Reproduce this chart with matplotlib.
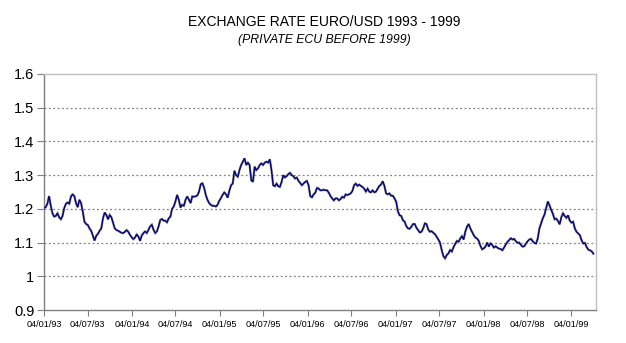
import matplotlib
matplotlib.use("Agg")
import matplotlib.pyplot as plt
import pandas as pd

plt.rcParams['font.family'] = ['Liberation Sans', 'DejaVu Sans']

title = "EXCHANGE RATE EURO/USD 1993 - 1999"
subtitle = "(PRIVATE ECU BEFORE 1999)"

start_date = "1993-01-04"

# weekly readings of the rate
rate_1993 = [1.202, 1.205, 1.215, 1.238, 1.21, 1.187, 1.177, 1.179, 1.187, 1.175,
             1.169, 1.179, 1.202, 1.215, 1.219, 1.215, 1.237, 1.243, 1.238, 1.217,
             1.205, 1.227, 1.217, 1.192, 1.162, 1.155, 1.152, 1.142, 1.135, 1.12,
             1.106, 1.12, 1.126, 1.135, 1.142, 1.172, 1.189, 1.182, 1.169, 1.182,
             1.175, 1.159, 1.142, 1.137, 1.135, 1.132, 1.129, 1.128, 1.132, 1.137,
             1.132, 1.123, 1.116]
rate_1994 = [1.11, 1.115, 1.124, 1.118, 1.105, 1.121, 1.128, 1.133, 1.128, 1.138,
             1.148, 1.153, 1.138, 1.128, 1.133, 1.148, 1.167, 1.170, 1.165, 1.165,
             1.160, 1.172, 1.177, 1.200, 1.207, 1.222, 1.2415, 1.227, 1.204, 1.212,
             1.209, 1.227, 1.237, 1.227, 1.217, 1.237, 1.236, 1.237, 1.240, 1.251,
             1.273, 1.276, 1.263, 1.2415, 1.227, 1.217, 1.212, 1.209, 1.209, 1.207,
             1.212, 1.224, 1.232]
rate_1995 = [1.2415, 1.249, 1.243, 1.233, 1.254, 1.270, 1.275, 1.313, 1.300, 1.295,
             1.315, 1.330, 1.340, 1.350, 1.330, 1.337, 1.330, 1.285, 1.280, 1.325,
             1.315, 1.320, 1.330, 1.335, 1.330, 1.337, 1.340, 1.337, 1.347, 1.315,
             1.270, 1.267, 1.275, 1.267, 1.265, 1.280, 1.300, 1.293, 1.297, 1.303,
             1.307, 1.300, 1.297, 1.290, 1.293, 1.283, 1.277, 1.270, 1.275, 1.280,
             1.283, 1.270, 1.238]
rate_1996 = [1.234, 1.243, 1.248, 1.262, 1.260, 1.255, 1.255, 1.257, 1.255, 1.255,
             1.248, 1.238, 1.231, 1.225, 1.231, 1.231, 1.225, 1.229, 1.236, 1.233,
             1.243, 1.241, 1.243, 1.246, 1.253, 1.270, 1.275, 1.268, 1.272, 1.268,
             1.265, 1.260, 1.251, 1.260, 1.251, 1.249, 1.255, 1.249, 1.251, 1.260,
             1.268, 1.272, 1.282, 1.268, 1.246, 1.243, 1.246, 1.239, 1.239, 1.231,
             1.221, 1.193, 1.181]
rate_1997 = [1.179, 1.166, 1.162, 1.149, 1.142, 1.141, 1.147, 1.155, 1.155, 1.144,
             1.137, 1.130, 1.132, 1.142, 1.157, 1.155, 1.139, 1.132, 1.134, 1.129,
             1.125, 1.117, 1.109, 1.100, 1.078, 1.060, 1.053, 1.063, 1.068, 1.078,
             1.073, 1.086, 1.096, 1.105, 1.102, 1.112, 1.119, 1.109, 1.132, 1.147,
             1.155, 1.142, 1.132, 1.122, 1.115, 1.112, 1.105, 1.090, 1.080, 1.083,
             1.088, 1.100, 1.088]
rate_1998_99 = [1.098, 1.093, 1.085, 1.089, 1.085, 1.082, 1.081, 1.077, 1.085, 1.094,
                1.102, 1.107, 1.113, 1.109, 1.111, 1.104, 1.099, 1.100, 1.093, 1.088,
                1.089, 1.097, 1.104, 1.109, 1.111, 1.104, 1.099, 1.097, 1.112, 1.142,
                1.157, 1.172, 1.183, 1.202, 1.222, 1.210, 1.197, 1.185, 1.169, 1.171,
                1.164, 1.154, 1.175, 1.187, 1.179, 1.173, 1.181, 1.165, 1.159, 1.162,
                1.142, 1.132, 1.127, 1.122, 1.107, 1.097, 1.099, 1.087, 1.079, 1.077,
                1.074, 1.067]

rates = rate_1993 + rate_1994 + rate_1995 + rate_1996 + rate_1997 + rate_1998_99
dates = pd.date_range(start_date, periods=len(rates), freq="7D")

tick_labels = ["04/01/93", "04/07/93", "04/01/94", "04/07/94", "04/01/95", "04/07/95",
               "04/01/96", "04/07/96", "04/01/97", "04/07/97", "04/01/98", "04/07/98",
               "04/01/99"]
tick_dates = pd.to_datetime(tick_labels, format="%d/%m/%y")
y_ticks = [0.9, 1.0, 1.1, 1.2, 1.3, 1.4, 1.5, 1.6]
y_tick_labels = ["0.9", "1", "1.1", "1.2", "1.3", "1.4", "1.5", "1.6"]

fig = plt.figure(figsize=(6.26, 3.43), dpi=100)
ax = fig.add_axes([44/626, 1-310/343, (596-44)/626, (310-74)/343])

ax.plot(dates, rates, color="#7a7a7a", lw=1.6, solid_joinstyle="miter", zorder=2)
ax.plot(dates, rates, color="#000080", lw=0.9, solid_joinstyle="miter", zorder=3)

ax.set_ylim(0.9, 1.6)
ax.set_xlim(pd.Timestamp("1993-01-04"), pd.Timestamp("1999-04-16"))
ax.set_yticks(y_ticks)
ax.set_yticklabels(y_tick_labels, fontsize=10.5)
ax.set_xticks(tick_dates)
ax.set_xticklabels(tick_labels, fontsize=6.6)

for yv in y_ticks[1:-1]:
    ax.axhline(yv, color="#808080", lw=0.9, ls=(0, (1.5, 2)), zorder=1)

for side in ["left", "bottom"]:
    ax.spines[side].set_color("#808080")
    ax.spines[side].set_linewidth(1.0)
for side in ["top", "right"]:
    ax.spines[side].set_color("#c0c0c0")
    ax.spines[side].set_linewidth(1.0)

ax.tick_params(axis="y", direction="out", length=5, width=0.8, color="#808080", pad=2)
ax.tick_params(axis="x", direction="out", length=4, width=0.8, color="#808080", pad=3)

fig.text(324/626, 1-22/343, title, ha="center", va="center", fontsize=10)
fig.text(324/626, 1-40/343, subtitle, ha="center", va="center", fontsize=8.8, style="italic")

fig.savefig("out.png", dpi=100)
